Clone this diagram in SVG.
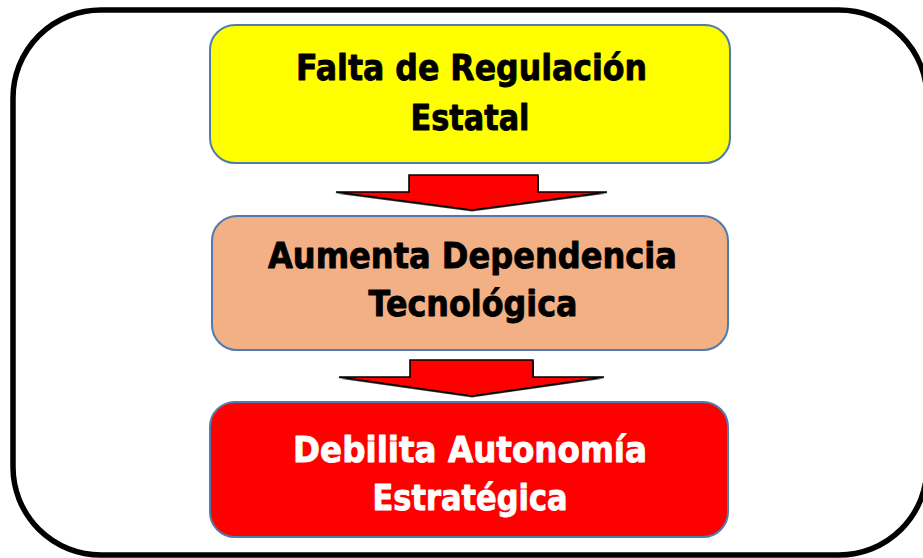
<svg xmlns="http://www.w3.org/2000/svg" width="923" height="558" viewBox="0 0 923 558">
<style>
.box{stroke:#4F7BAE;stroke-width:2}
.t{font-family:"DejaVu Sans","Verdana",sans-serif;font-weight:bold;font-size:32px;text-anchor:middle;stroke-width:0.8;stroke-linejoin:round}
.k{fill:#000;stroke:#000}
.w{fill:#fff;stroke:#fff}
.arrow{fill:#FF0000;stroke:#000;stroke-width:1.6;stroke-linejoin:miter}
.shadow{fill:#000;opacity:0.75}
</style>
<rect x="13" y="10" width="914" height="545" rx="88" ry="88" fill="#fff" stroke="#000" stroke-width="5.5"/>
<g id="n1">
<rect class="box" x="210" y="25" width="520" height="138" rx="25" fill="#FFFF00"/>
<g transform="translate(471.5,80) scale(1,1.1)"><text class="t k" x="0" y="0" textLength="351" lengthAdjust="spacingAndGlyphs">Falta de Regulación</text></g>
<g transform="translate(470,130) scale(1,1.1)"><text class="t k" x="0" y="0" textLength="119" lengthAdjust="spacingAndGlyphs">Estatal</text></g>
</g>
<g id="n2">
<rect class="box" x="212" y="216" width="516" height="134" rx="25" fill="#F2B084"/>
<g transform="translate(472.5,268) scale(1,1.1)"><text class="t k" x="0" y="0" textLength="409" lengthAdjust="spacingAndGlyphs">Aumenta Dependencia</text></g>
<g transform="translate(473,316) scale(1,1.1)"><text class="t k" x="0" y="0" textLength="209" lengthAdjust="spacingAndGlyphs">Tecnológica</text></g>
</g>
<g id="n3">
<rect class="box" x="210" y="402" width="518" height="135" rx="25" fill="#FF0000"/>
<g transform="translate(470,462) scale(1,1.1)"><text class="t w" x="0" y="0" textLength="354" lengthAdjust="spacingAndGlyphs">Debilita Autonomía</text></g>
<g transform="translate(470,510) scale(1,1.1)"><text class="t w" x="0" y="0" textLength="195" lengthAdjust="spacingAndGlyphs">Estratégica</text></g>
</g>
<g id="connectors">
<polygon class="shadow" points="410,176.5 539,176.5 539,193.5 608,193.5 472,211.5 335,193.5 410,193.5"/>
<polygon class="arrow" points="409,175 538,175 538,192 607,192 472,210 336,192 409,192"/>
<polygon class="shadow" points="411,361.5 534,361.5 534,378.5 605,378.5 472,397.5 338,378.5 411,378.5"/>
<polygon class="arrow" points="410,360 533,360 533,377 604,377 472,396 339,377 410,377"/>
</g>
</svg>
